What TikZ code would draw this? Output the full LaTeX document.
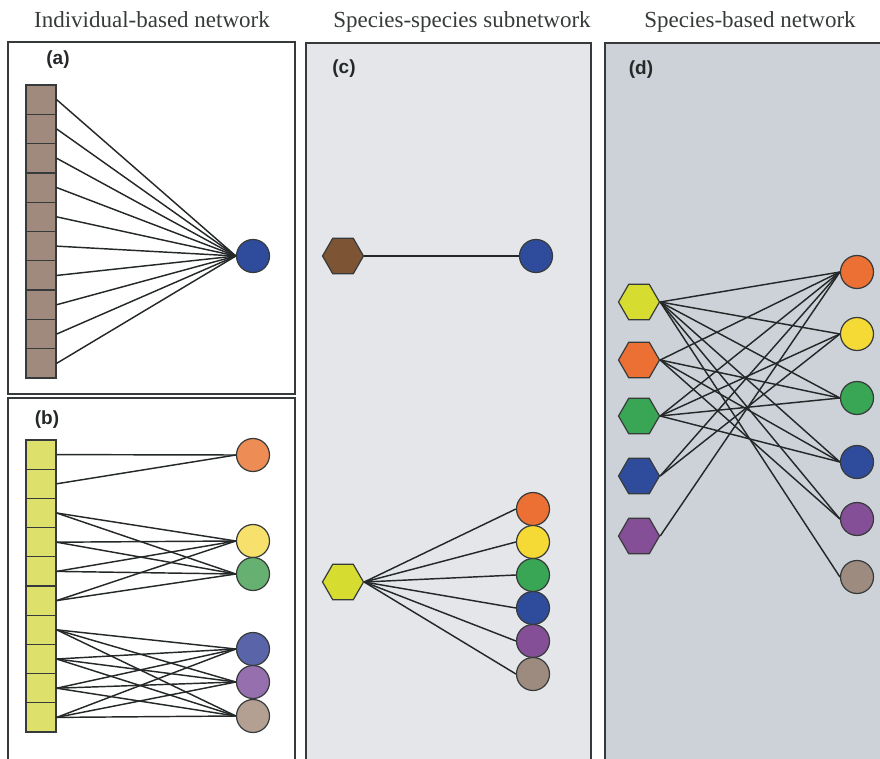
\documentclass[tikz,border=0pt]{standalone}
\usepackage{fontspec}
\setmainfont{Liberation Serif}
\newfontfamily\tagfont{Liberation Sans}
\usetikzlibrary{shapes.geometric,positioning}
\definecolor{framegray}{RGB}{55,58,58}
\definecolor{linkgray}{RGB}{36,40,40}
\definecolor{panelc}{RGB}{228,230,234}
\definecolor{paneld}{RGB}{205,210,217}
\definecolor{barbrown}{RGB}{160,138,126}
\definecolor{baryellow}{RGB}{221,224,106}
% lighter tones of panel (b)
\definecolor{lorange}{RGB}{238,140,85}
\definecolor{lyellow}{RGB}{247,224,107}
\definecolor{lgreen}{RGB}{102,176,114}
\definecolor{lblue}{RGB}{90,100,168}
\definecolor{lpurple}{RGB}{150,112,174}
\definecolor{lbrown}{RGB}{179,160,147}
% species colours
\definecolor{sporange}{RGB}{236,112,51}
\definecolor{spyellow}{RGB}{245,218,53}
\definecolor{spgreen}{RGB}{56,166,85}
\definecolor{spblue}{RGB}{47,76,156}
\definecolor{sppurple}{RGB}{132,79,150}
\definecolor{spbrown}{RGB}{158,139,127}
\definecolor{hexyellow}{RGB}{215,220,48}
\definecolor{hexbrown}{RGB}{125,85,53}

\begin{document}
\begin{tikzpicture}[x=1pt,y=-1pt,
  cell/.style={draw=framegray,line width=1.3pt,minimum width=30pt,
               minimum height=29.3pt,inner sep=0pt},
  sp/.style={circle,draw=framegray,line width=1.2pt,minimum size=33pt,inner sep=0pt},
  hex/.style={regular polygon,regular polygon sides=6,draw=framegray,
              line width=1.2pt,minimum size=41pt,inner sep=0pt},
  link/.style={draw=linkgray,line width=1.45pt},
  panel/.style={draw=framegray,line width=1.5pt},
  title/.style={font=\fontsize{23}{26}\selectfont,text=framegray,anchor=base},
  tag/.style={font=\tagfont\bfseries\fontsize{19}{21}\selectfont,text=linkgray}
]
\useasboundingbox (0,0) rectangle (880,759);
% panels
\fill[panelc] (306,43) rectangle (591,759);
\fill[paneld] (605,43) rectangle (880,759);
\draw[panel] (8,42) rectangle (295,394);
\draw[panel] (8,759) -- (8,398) -- (295,398) -- (295,759);
\draw[panel] (306,759) -- (306,43) -- (591,43) -- (591,759);
\draw[panel] (605,759) -- (605,43) -- (880,43);
% titles
\node[title] (tind) at (152,28) {Individual-based network};
\node[title] (tsub) at (462,28) {Species-species subnetwork};
\node[title] (tspe) at (750,28) {Species-based network};
\node[tag] (taga) at (58,60) {(a)};
\node[tag] (tagb) at (47,420) {(b)};
\node[tag] (tagc) at (344,69) {(c)};
\node[tag] (tagd) at (641,70) {(d)};

% (a) individuals of one species
\foreach \i in {1,...,10}
  \node[cell,fill=barbrown] (a\i) at (41,{85+29.3*(\i-0.5)}) {};
\node[sp,fill=spblue] (ablue) at (253,256) {};
\foreach \i in {1,...,10}
  \draw[link] (a\i.east) -- (ablue.west);

% (b) individuals of the yellow species
\foreach \i in {1,...,10}
  \node[cell,fill=baryellow] (b\i) at (41,{440+29.2*(\i-0.5)}) {};
\node[sp,fill=lorange] (bora) at (253,455) {};
\node[sp,fill=lyellow] (byel) at (253,541) {};
\node[sp,fill=lgreen] (bgrn) at (253,574) {};
\node[sp,fill=lblue] (bblu) at (253,649) {};
\node[sp,fill=lpurple] (bpur) at (253,682) {};
\node[sp,fill=lbrown] (bbrn) at (253,716) {};
\draw[link] (b1.east) -- (bora.west);
\draw[link] (b2.east) -- (bora.west);
\foreach \i in {3,...,6}
  \foreach \s in {byel,bgrn}
    \draw[link] (b\i.east) -- (\s.west);
\foreach \i in {7,...,10}
  \foreach \s in {bblu,bpur,bbrn}
    \draw[link] (b\i.east) -- (\s.west);

% (c) subnetworks
\node[hex,fill=hexbrown] (chbr) at (343,256) {};
\node[sp,fill=spblue] (cblu) at (536,256) {};
\draw[link] (chbr.east) -- (cblu.west);
\node[hex,fill=hexyellow] (chye) at (343,582) {};
\node[sp,fill=sporange] (cora) at (533,509) {};
\node[sp,fill=spyellow] (cyel) at (533,542) {};
\node[sp,fill=spgreen] (cgrn) at (533,575) {};
\node[sp,fill=spblue] (cblb) at (533,608) {};
\node[sp,fill=sppurple] (cpur) at (533,641) {};
\node[sp,fill=spbrown] (cbrn) at (533,674) {};
\foreach \s in {cora,cyel,cgrn,cblb,cpur,cbrn}
  \draw[link] (chye.east) -- (\s.west);

% (d) species-based network
\node[hex,fill=hexyellow] (dhye) at (639,302) {};
\node[hex,fill=sporange] (dhor) at (639,360) {};
\node[hex,fill=spgreen] (dhgr) at (639,416) {};
\node[hex,fill=spblue] (dhbl) at (639,476) {};
\node[hex,fill=sppurple] (dhpu) at (639,536) {};
\node[sp,fill=sporange] (dora) at (857,272) {};
\node[sp,fill=spyellow] (dyel) at (857,334) {};
\node[sp,fill=spgreen] (dgrn) at (857,398) {};
\node[sp,fill=spblue] (dblu) at (857,462) {};
\node[sp,fill=sppurple] (dpur) at (857,519) {};
\node[sp,fill=spbrown] (dbrn) at (857,577) {};
\foreach \s in {dora,dyel,dgrn,dblu,dpur,dbrn}
  \draw[link] (dhye.east) -- (\s.west);
\foreach \s in {dora,dgrn,dblu,dpur}
  \draw[link] (dhor.east) -- (\s.west);
\foreach \s in {dora,dyel,dgrn,dblu}
  \draw[link] (dhgr.east) -- (\s.west);
\foreach \s in {dora,dyel}
  \draw[link] (dhbl.east) -- (\s.west);
\draw[link] (dhpu.east) -- (dora.west);
\end{tikzpicture}
\end{document}
